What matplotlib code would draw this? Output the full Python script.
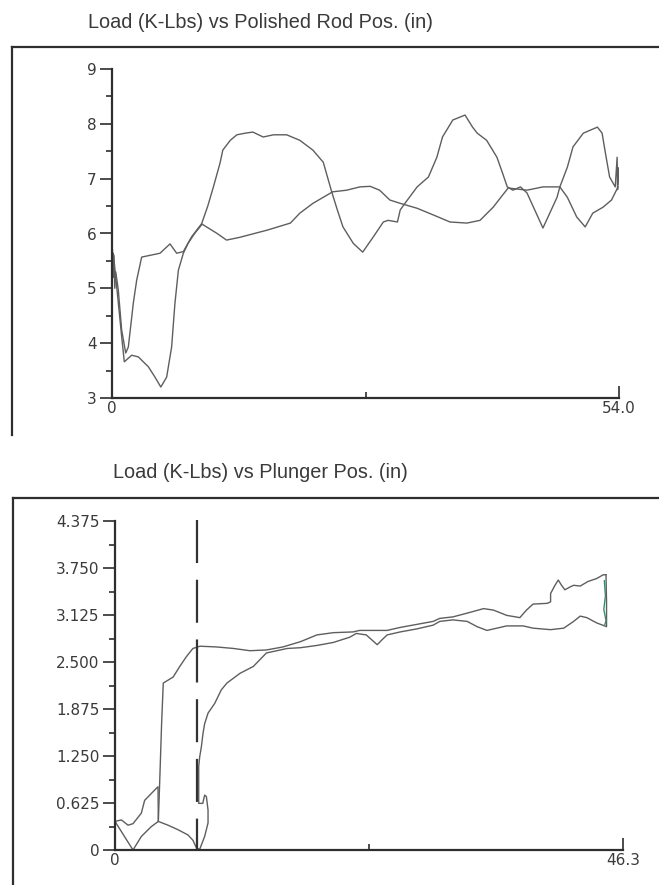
"""Dynamometer cards: surface (polished rod) and downhole (plunger) load vs position."""

import matplotlib

matplotlib.use("Agg")
import matplotlib.pyplot as plt
from matplotlib.lines import Line2D

# Surface card: load (K-Lbs) vs polished rod position (in)
ROD_TITLE = "Load (K-Lbs) vs Polished Rod Pos. (in)"
ROD_YTICKS = [3, 4, 5, 6, 7, 8, 9]
ROD_XMAX = 54.0

rod_up_x = [0.05, 0.1, 0.2, 0.3, 0.4, 0.67, 1.03, 1.46, 1.74, 2.27, 2.63, 3.16, 4.0, 5.11, 6.18,
            6.89, 7.6, 8.48, 9.55, 10.2, 10.8, 11.5, 11.8, 12.6, 13.3, 14.2, 15.0, 16.1, 17.2,
            18.6, 20.0, 21.4, 22.5, 23.0, 23.4, 24.0, 24.6, 25.7, 26.7, 27.8, 28.9, 29.4, 30.4,
            30.7, 31.2, 32.5, 33.7, 34.6, 35.2, 36.3, 37.6, 38.4, 38.9, 39.9, 41.0, 41.6, 42.1,
            42.7, 43.5, 44.2, 45.9, 47.4, 47.7, 48.5, 49.1, 50.2, 51.7, 52.2, 52.5, 53.0, 53.6,
            53.8, 53.85, 53.9, 53.85]
rod_up_y = [5.7, 5.2, 5.6, 5.0, 5.3, 4.97, 4.24, 3.82, 3.93, 4.73, 5.15, 5.57, 5.6, 5.64, 5.81,
            5.64, 5.67, 5.94, 6.18, 6.5, 6.85, 7.28, 7.52, 7.7, 7.8, 7.83, 7.85, 7.76, 7.8,
            7.8, 7.7, 7.52, 7.3, 7.0, 6.76, 6.43, 6.12, 5.82, 5.66, 5.93, 6.21, 6.24, 6.21,
            6.43, 6.55, 6.85, 7.03, 7.39, 7.76, 8.07, 8.16, 7.94, 7.83, 7.7, 7.39, 7.1, 6.85,
            6.79, 6.85, 6.74, 6.1, 6.66, 6.85, 7.21, 7.58, 7.83, 7.94, 7.83, 7.52, 7.03, 6.85,
            7.39, 6.8, 7.2, 6.9]

rod_down_x = [53.9, 53.2, 52.3, 51.2, 50.4, 49.5, 48.5, 47.7, 45.9, 44.2, 42.2, 41.6, 40.6, 39.2,
              37.8, 36.0, 34.2, 32.5, 30.7, 29.6, 28.5, 27.5, 26.4, 25.0, 23.5, 22.5, 21.4, 20.0,
              19.0, 16.5, 13.6, 12.2, 11.2, 9.6, 8.8, 8.1, 7.6, 7.07, 6.7, 6.35, 5.82, 5.2, 4.58,
              3.87, 2.8, 2.1, 1.31, 1.03, 0.5, 0.14, 0.05]
rod_down_y = [6.85, 6.61, 6.48, 6.37, 6.12, 6.3, 6.66, 6.85, 6.85, 6.79, 6.83, 6.7, 6.48, 6.24,
              6.19, 6.21, 6.34, 6.46, 6.55, 6.61, 6.79, 6.86, 6.85, 6.79, 6.76, 6.66, 6.55, 6.37,
              6.19, 6.06, 5.93, 5.88, 6.0, 6.17, 6.0, 5.82, 5.64, 5.33, 4.72, 3.93, 3.38, 3.2, 3.38,
              3.57, 3.75, 3.78, 3.66, 4.12, 5.03, 5.64, 5.3]

# Downhole card: load (K-Lbs) vs plunger position (in)
PLUNGER_TITLE = "Load (K-Lbs) vs Plunger Pos. (in)"
PLUNGER_YTICKS = [0, 0.625, 1.25, 1.875, 2.5, 3.125, 3.75, 4.375]
PLUNGER_YLABELS = ["0", "0.625", "1.250", "1.875", "2.500", "3.125", "3.750", "4.375"]
PLUNGER_XMAX = 46.3
MARKER_X = 7.5

plunger_a_x = [0, 0.58, 1.19, 1.64, 2.4, 2.7, 3.3, 3.77, 3.92, 3.95, 4.83, 5.74, 6.65, 7.1, 7.45,
               7.72, 8.17, 8.48, 8.48, 8.33, 8.17, 8.0, 7.63, 7.63, 7.72, 7.87, 8.02, 8.17, 8.48,
               9.09, 9.69, 10.2, 11.4, 12.6, 13.8, 15.7, 16.9, 18.4, 19.9, 21.4, 22.0, 22.9, 23.9,
               24.3, 24.8, 26.0, 27.5, 29.0, 29.6, 30.8, 32.1, 33.0, 33.9, 34.8, 35.7, 37.2, 38.1,
               39.7, 40.9, 41.8, 42.4, 43.0, 43.9, 44.8, 44.8, 44.75]
plunger_a_y = [0.38, 0.4, 0.33, 0.35, 0.49, 0.66, 0.75, 0.82, 0.84, 0.38, 0.33, 0.27, 0.2, 0.13,
               0.02, 0.01, 0.18, 0.36, 0.53, 0.71, 0.73, 0.62, 0.62, 1.11, 1.24, 1.37, 1.55, 1.68,
               1.82, 1.95, 2.13, 2.22, 2.35, 2.44, 2.62, 2.68, 2.69, 2.72, 2.76, 2.83, 2.88, 2.86,
               2.73, 2.79, 2.86, 2.9, 2.94, 2.99, 3.04, 3.06, 3.04, 2.97, 2.92, 2.95, 2.98, 2.98,
               2.95, 2.93, 2.95, 3.04, 3.11, 3.09, 3.02, 2.97, 3.3, 3.66]

plunger_b_x = [44.75, 44.5, 43.9, 43.1, 42.4, 41.8, 41.5, 41.0, 40.7, 40.4, 40.1, 39.7, 39.7, 39.4,
               38.1, 37.5, 36.9, 35.7, 34.5, 33.6, 32.1, 30.8, 29.6, 29.0, 27.5, 26.0, 24.8, 23.5,
               22.3, 21.7, 19.9, 18.4, 16.9, 15.3, 13.8, 12.3, 10.8, 9.27, 7.75, 7.1, 6.5, 5.9,
               5.3, 4.4, 4.25, 4.1, 3.95, 3.3, 2.4, 1.64, 0]
plunger_b_y = [3.66, 3.66, 3.61, 3.57, 3.51, 3.52, 3.5, 3.46, 3.52, 3.59, 3.52, 3.41, 3.3, 3.28,
               3.27, 3.19, 3.09, 3.12, 3.19, 3.21, 3.15, 3.1, 3.08, 3.04, 3.0, 2.96, 2.92, 2.92,
               2.92, 2.9, 2.89, 2.86, 2.77, 2.7, 2.66, 2.65, 2.68, 2.7, 2.71, 2.68, 2.57, 2.44,
               2.3, 2.22, 1.69, 1.02, 0.38, 0.31, 0.18, 0.0, 0.38]

plunger_end_x = [44.6, 44.7, 44.55, 44.75, 44.65]
plunger_end_y = [3.58, 3.38, 3.2, 3.05, 3.0]

CURVE = "#5e5e5e"
AXIS = "#2e2e2e"
TEXT = "#3a3a3a"

plt.rcParams["lines.scale_dashes"] = False


def style_axis(axis, xmax, yticks, ylabels):
    axis.set_xlim(0, xmax)
    axis.set_ylim(yticks[0], yticks[-1])
    for side in ("top", "right"):
        axis.spines[side].set_visible(False)
    for side in ("left", "bottom"):
        axis.spines[side].set_color(AXIS)
        axis.spines[side].set_linewidth(1.6)
    axis.set_yticks(yticks, ylabels, fontsize=11, color=TEXT)
    axis.set_yticks([(a + b) / 2 for a, b in zip(yticks[:-1], yticks[1:])], minor=True)
    axis.tick_params(axis="y", which="major", direction="out", length=9, width=1.2, color=AXIS, pad=2)
    axis.tick_params(axis="y", which="minor", direction="out", length=4, width=1.2, color=AXIS)
    label = f"{xmax:.1f}"
    axis.set_xticks([0, xmax], ["0", label], fontsize=11, color=TEXT)
    axis.set_xticks([xmax / 2], minor=True)
    axis.tick_params(axis="x", which="major", direction="in", length=9, width=1.2, color=AXIS, pad=2)
    axis.tick_params(axis="x", which="minor", direction="in", length=4, width=1.2, color=AXIS)
    axis.patch.set_visible(False)


def frame(figure, left, top, bottom):
    figure.add_artist(Line2D([left, 1.0], [top, top], color=AXIS, lw=1.6))
    figure.add_artist(Line2D([left, left], [top, bottom], color=AXIS, lw=1.6))


figure = plt.figure(figsize=(6.59, 8.85), dpi=100)
W, H = 659, 885

rod = figure.add_axes([112 / W, 1 - 398 / H, 507 / W, 329 / H])
style_axis(rod, ROD_XMAX, ROD_YTICKS, [str(t) for t in ROD_YTICKS])
rod.plot(rod_up_x, rod_up_y, color=CURVE, lw=1.0, clip_on=False)
rod.plot(rod_down_x, rod_down_y, color=CURVE, lw=1.0, clip_on=False)
figure.text(260 / W, 1 - 22 / H, ROD_TITLE, ha="center", va="center", fontsize=14.3,
            family="Liberation Sans", color=TEXT)
frame(figure, 12 / W, 1 - 47 / H, 1 - 435 / H)

plunger = figure.add_axes([115 / W, 1 - 850 / H, 508 / W, 329 / H])
style_axis(plunger, PLUNGER_XMAX, PLUNGER_YTICKS, PLUNGER_YLABELS)
plunger.plot(plunger_a_x, plunger_a_y, color=CURVE, lw=1.0, clip_on=False)
plunger.plot(plunger_b_x, plunger_b_y, color=CURVE, lw=1.0, clip_on=False)
plunger.plot(plunger_end_x, plunger_end_y, color="#3c8c6c", lw=1.0, clip_on=False)
plunger.plot([MARKER_X, MARKER_X], [4.39, 0], color="#333333", lw=1.6,
             dashes=(31, 12), clip_on=False)
figure.text(260 / W, 1 - 472 / H, PLUNGER_TITLE, ha="center", va="center", fontsize=14.3,
            family="Liberation Sans", color=TEXT)
frame(figure, 13 / W, 1 - 498 / H, 0.0)

figure.savefig("out.png", dpi=100, facecolor="white")
